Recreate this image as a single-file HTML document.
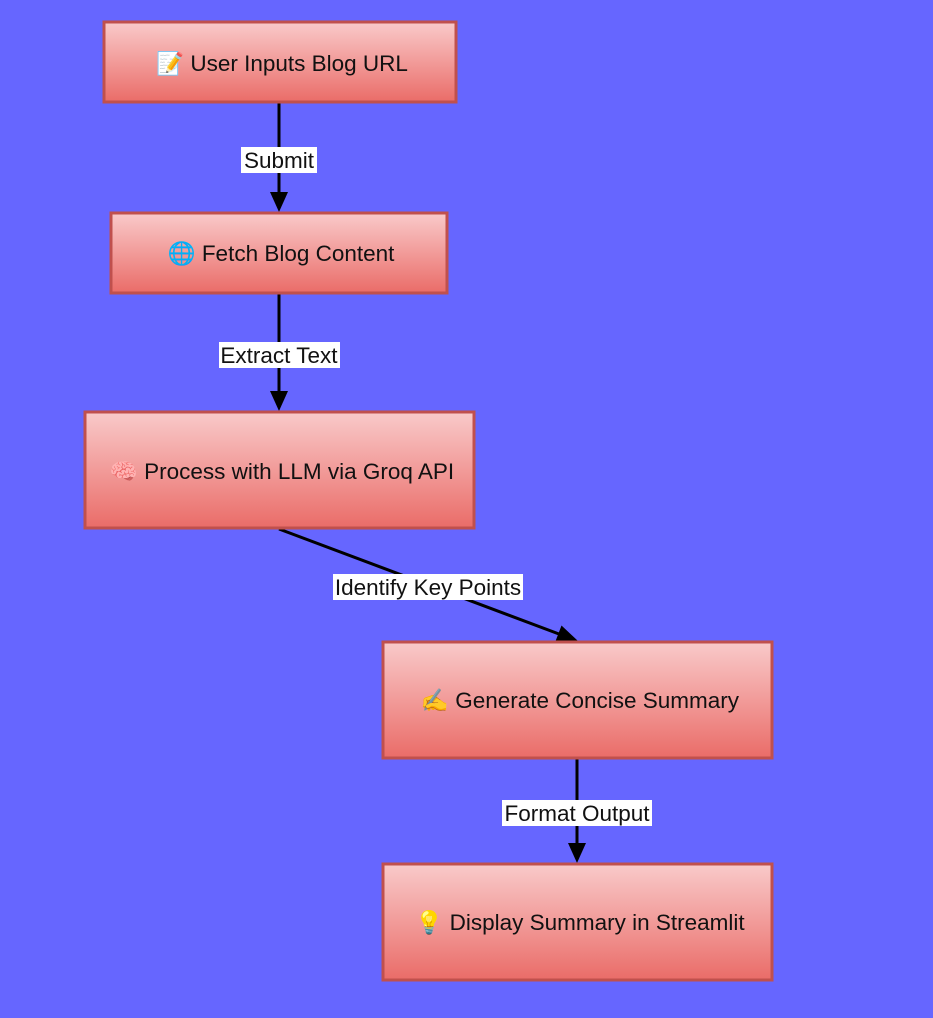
<!DOCTYPE html>
<html><head><meta charset="utf-8"><style>
html,body{margin:0;padding:0;background:#6666FF;width:933px;height:1018px;overflow:hidden}
svg{display:block}
text{font-family:"Liberation Sans","DejaVu Sans",sans-serif;font-size:22.5px;fill:#111}
</style></head><body>
<svg width="933" height="1018" viewBox="0 0 933 1018" xmlns="http://www.w3.org/2000/svg">
<defs>
<linearGradient id="g" x1="0" y1="0" x2="0" y2="1">
<stop offset="0" stop-color="#F9CACA"/><stop offset="1" stop-color="#EA6C68"/>
</linearGradient>
</defs>
<g stroke="#000" stroke-width="3" fill="none">
<line x1="279" y1="103" x2="279" y2="196"/>
<line x1="279" y1="294" x2="279" y2="396"/>
<line x1="279" y1="529" x2="559" y2="634"/>
<line x1="577" y1="759" x2="577" y2="848"/>
</g>
<g fill="#000">
<path d="M270,192 L288,192 L279,212 z"/>
<path d="M270,391 L288,391 L279,411 z"/>
<path d="M555,642.5 L561.5,625.5 L578,641 z"/>
<path d="M568,843 L586,843 L577,863 z"/>
</g>
<g stroke="#C0504D" stroke-width="3" fill="url(#g)">
<rect x="104" y="22" width="352" height="80"/>
<rect x="111" y="213" width="336" height="80"/>
<rect x="85" y="412" width="389" height="116"/>
<rect x="383" y="642" width="389" height="116"/>
<rect x="383" y="864" width="389" height="116"/>
</g>
<g text-anchor="middle">
<text x="282" y="71">📝 User Inputs Blog URL</text>
<text x="281" y="261">🌐 Fetch Blog Content</text>
<text x="282" y="479">🧠 Process with LLM via Groq API</text>
<text x="580" y="708">✍️ Generate Concise Summary</text>
<text x="580" y="930">💡 Display Summary in Streamlit</text>
</g>
<g fill="#fff">
<rect x="241" y="147" width="76" height="26"/>
<rect x="219" y="342" width="121" height="26"/>
<rect x="333" y="574" width="190" height="26"/>
<rect x="502" y="800" width="150" height="26"/>
</g>
<g text-anchor="middle">
<text x="279" y="168">Submit</text>
<text x="279" y="363">Extract Text</text>
<text x="428" y="595">Identify Key Points</text>
<text x="577" y="821">Format Output</text>
</g>
</svg>
</body></html>
